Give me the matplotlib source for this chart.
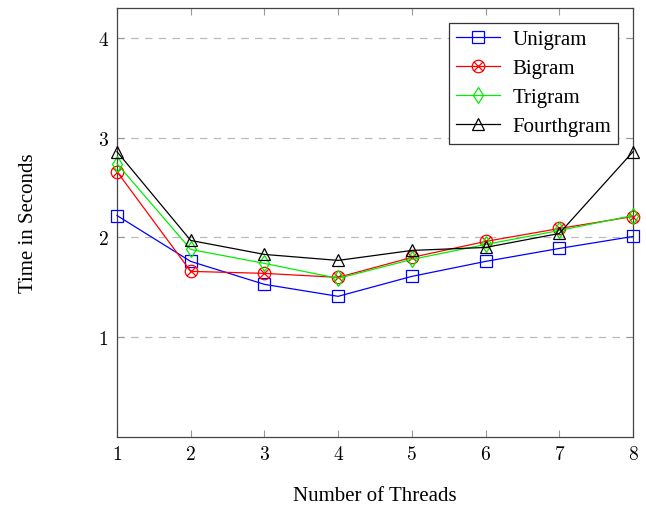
import numpy as np
import matplotlib
matplotlib.use("Agg")
import matplotlib.pyplot as plt
from matplotlib.path import Path

plt.rcParams['font.family'] = ['Liberation Serif', 'DejaVu Serif']
plt.rcParams['mathtext.fontset'] = 'cm'

threads = [1, 2, 3, 4, 5, 6, 7, 8]
unigram = [2.22, 1.76, 1.53, 1.41, 1.61, 1.76, 1.89, 2.01]
bigram = [2.66, 1.66, 1.64, 1.60, 1.80, 1.96, 2.09, 2.21]
trigram = [2.74, 1.88, 1.74, 1.59, 1.78, 1.93, 2.07, 2.22]
fourthgram = [2.86, 1.97, 1.83, 1.77, 1.87, 1.90, 2.04, 2.86]
y_ticks = [1, 2, 3, 4]

# circle with a cross (pgfplots "otimes")
circ = Path.unit_circle()
s = np.sqrt(0.5)
cross = Path([(-s, -s), (s, s), (-s, s), (s, -s)],
             [Path.MOVETO, Path.LINETO, Path.MOVETO, Path.LINETO])
otimes = Path.make_compound_path(circ, cross)

fig = plt.figure(figsize=(6.46, 5.06), dpi=100)
ax = fig.add_axes([0.1811, 0.1344, 0.7988, 0.8478])

series = [
    ("Unigram", unigram, "blue", "s", 8),
    ("Bigram", bigram, "red", otimes, 9),
    ("Trigram", trigram, "#00ee00", "d", 8),
    ("Fourthgram", fourthgram, "black", "^", 8),
]
for name, vals, col, mk, ms in series:
    ax.plot(threads, vals, color=col, lw=0.9, marker=mk, ms=ms,
            mfc="none", mec=col, mew=0.9, label=name, clip_on=False, zorder=3)

ax.set_xlim(1, 8)
ax.set_ylim(0, 4.3)
ax.set_xticks(threads)
ax.set_xticklabels([f"${t}$" for t in threads])
ax.set_yticks(y_ticks)
ax.set_yticklabels([f"${t}$" for t in y_ticks])
ax.tick_params(direction="in", top=True, right=True, length=5, color="#999999",
               labelsize=14, pad=6)
ax.yaxis.grid(True, linestyle=(0, (6, 5)), color="#bbbbbb", lw=0.9)
for sp in ax.spines.values():
    sp.set_color("#444444")
    sp.set_linewidth(0.9)

ax.set_xlabel("Number of Threads", fontsize=15, labelpad=16)
ax.set_ylabel("Time in Seconds", fontsize=15, labelpad=43)

leg = ax.legend(loc="upper right", fontsize=15, fancybox=False, framealpha=1,
                edgecolor="#333333", borderaxespad=0.7, handlelength=2.1,
                labelspacing=0.45, handletextpad=0.6, borderpad=0.35)
leg.get_frame().set_linewidth(0.9)

fig.savefig("out.png", dpi=100)
